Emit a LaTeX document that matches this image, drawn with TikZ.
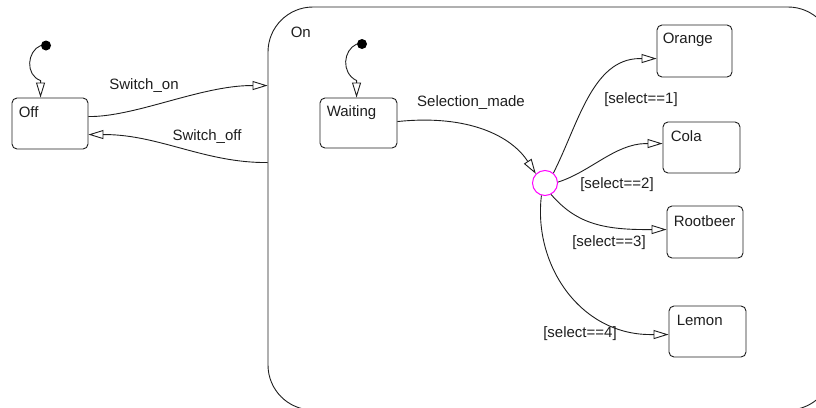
\documentclass[tikz,border=0pt]{standalone}
\usepackage{fontspec}
\setmainfont{Liberation Sans}
\usetikzlibrary{arrows.meta,calc}
\definecolor{juncmag}{RGB}{255,0,255}
\definecolor{linegray}{RGB}{30,30,30}
\begin{document}
\begin{tikzpicture}[x=1pt,y=-1pt,
  statebox/.style={draw=linegray, line width=0.9pt, rounded corners=5pt, inner sep=0pt},
  onbox/.style={draw=linegray, line width=0.9pt, rounded corners=45pt, inner sep=0pt},
  nametext/.style={inner sep=0pt, anchor=west, text=linegray, font=\fontsize{15}{17}\selectfont},
  lbl/.style={inner sep=0pt, text=linegray, font=\fontsize{15}{17}\selectfont},
  initdot/.style={circle, fill=black, inner sep=0pt, minimum size=10pt},
  junction/.style={circle, draw=juncmag, line width=1pt, inner sep=0pt, minimum size=25pt},
  trans/.style={draw=linegray, line width=0.9pt, -{Triangle[open, length=15pt, width=9pt]}}
]
\useasboundingbox (0,0) rectangle (816,407);

% On superstate
\node[onbox, minimum width=565pt, minimum height=403pt] (on) at (550.5,208.5) {};
\node[nametext] (onname) at ($(on.north west)+(23,26)$) {On};

% States
\node[statebox, minimum width=76pt, minimum height=51pt] (off) at (50,123.5) {};
\node[nametext] (offname) at ($(off.north west)+(7,15)$) {Off};
\node[statebox, minimum width=77pt, minimum height=50pt] (waiting) at (358.5,123) {};
\node[nametext] (waitingname) at ($(waiting.north west)+(7,15)$) {Waiting};
\node[statebox, minimum width=75pt, minimum height=52pt] (orange) at (694.5,51) {};
\node[nametext] (orangename) at ($(orange.north west)+(6,15)$) {Orange};
\node[statebox, minimum width=77pt, minimum height=51pt] (cola) at (701.5,147.5) {};
\node[nametext] (colaname) at ($(cola.north west)+(8,15)$) {Cola};
\node[statebox, minimum width=76pt, minimum height=52pt] (rootbeer) at (705,232) {};
\node[nametext] (rootbeername) at ($(rootbeer.north west)+(7,16)$) {Rootbeer};
\node[statebox, minimum width=77pt, minimum height=51pt] (lemon) at (707.5,331.5) {};
\node[nametext] (lemonname) at ($(lemon.north west)+(8,15)$) {Lemon};

% Junction
\node[junction] (jn) at (545,183) {};

% Initial dots
\node[initdot] (offdot) at (46,45.5) {};
\node[initdot] (waitdot) at (362,44) {};

% Connection points
\coordinate (offtop) at ($(off.north west)+(29,0)$);
\coordinate (waittop) at ($(waiting.north west)+(37,0)$);
\coordinate (offout) at ($(off.north east)+(0,19)$);
\coordinate (offin) at ($(off.north east)+(0,37)$);
\coordinate (onin) at ($(on.north west)+(0,79)$);
\coordinate (onout) at ($(on.north west)+(0,156)$);
\coordinate (waitout) at ($(waiting.north east)+(0,24)$);
\coordinate (orangein) at ($(orange.north west)+(0,34)$);
\coordinate (colain) at ($(cola.north west)+(0,22)$);
\coordinate (rootbeerin) at ($(rootbeer.north west)+(0,24)$);
\coordinate (lemonin) at ($(lemon.north west)+(0,29)$);

% Default transitions
\draw[trans] (offdot.west) .. controls (27,51) and (25,75) .. ($(offtop)+(0,-17)$) -- (offtop);
\draw[trans] (waitdot.west) .. controls (343,50) and (341,73) .. ($(waittop)+(0,-17)$) -- (waittop);

% Off <-> On
\draw[trans] (offout) .. controls (135,117) and (200,86) .. ($(onin)+(-17,0)$) -- (onin);
\node[lbl] (lswon) at (144,86) {Switch\_on};
\draw[trans] (onout) .. controls (205,163) and (160,135) .. ($(offin)+(17,0)$) -- (offin);
\node[lbl] (lswoff) at (207,137) {Switch\_off};

% Waiting -> junction
\draw[trans] (waitout) .. controls (470,114) and (512,137) .. (jn.135);
\node[lbl] (lsel) at (471,103) {Selection\_made};

% Junction -> drinks
\draw[trans] (jn.50) .. controls (578,125) and (592,59) .. ($(orangein)+(-17,0)$) -- (orangein);
\node[lbl] (l1) at (641,100) {[select==1]};
\draw[trans] (jn.4) .. controls (590,172) and (615,144) .. ($(colain)+(-17,0)$) -- (colain);
\node[lbl] (l2) at (617,185) {[select==2]};
\draw[trans] (jn.-62) .. controls (575,222) and (600,230) .. ($(rootbeerin)+(-17,0)$) -- (rootbeerin);
\node[lbl] (l3) at (609,243) {[select==3]};
\draw[trans] (jn.-106) .. controls (533,265) and (580,334) .. ($(lemonin)+(-19,0)$) -- (lemonin);
\node[lbl] (l4) at (580,334) {[select==4]};
\end{tikzpicture}
\end{document}
